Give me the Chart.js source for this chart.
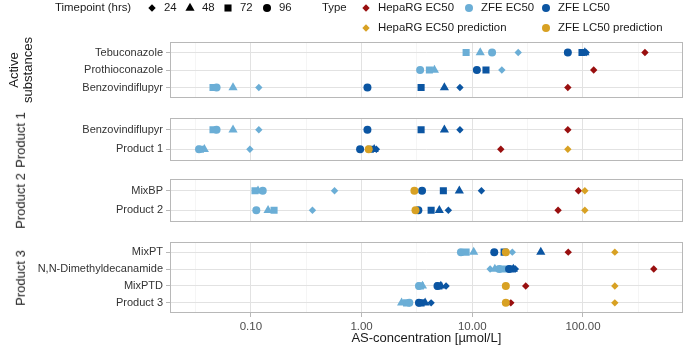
<!DOCTYPE html>
<html>
<head>
  <meta charset="utf-8">
  <title>AS-concentration</title>
  <script src="https://cdn.jsdelivr.net/npm/chart.js"></script>
  <style>
    body { margin: 0; background: #fff; }
    #plot { position: relative; width: 685px; height: 348px; overflow: hidden;
            font-family: "Liberation Sans", Arial, sans-serif; color: #1a1a1a; }
    #plot canvas { position: absolute; left: 0; }
    .txt { position: absolute; white-space: nowrap; line-height: 1; }
    .legend { font-size: 11.4px; transform: translateY(-50%); }
    .strip { font-size: 13px; text-align: center; white-space: pre; line-height: 1.1;
             transform: translate(-50%, -50%) rotate(-90deg); }
    .key { position: absolute; width: 14px; height: 14px; }
  </style>
</head>
<body>
<div id="plot"></div>

<script>
// facets and the substances in each, top to bottom
const facets = ['Active\nsubstances', 'Product 1', 'Product 2', 'Product 3'];
const facetRows = [
  ['Tebuconazole', 'Prothioconazole', 'Benzovindiflupyr'],
  ['Benzovindiflupyr', 'Product 1'],
  ['MixBP', 'Product 2'],
  ['MixPT', 'N,N-Dimethyldecanamide', 'MixPTD', 'Product 3']
];
const timepoints = [24, 48, 72, 96];
const xBreaks = [0.1, 1, 10, 100];

// [facet, substance, timepoint (hrs), AS-concentration µmol/L]
const zfeEC50 = [
  [0, 'Tebuconazole', 72, 8.8], [0, 'Tebuconazole', 48, 11.8], [0, 'Tebuconazole', 96, 15.1], [0, 'Tebuconazole', 24, 26],
  [0, 'Prothioconazole', 96, 3.38], [0, 'Prothioconazole', 72, 4.1], [0, 'Prothioconazole', 48, 4.55], [0, 'Prothioconazole', 24, 18.5],
  [0, 'Benzovindiflupyr', 72, 0.0455], [0, 'Benzovindiflupyr', 96, 0.049], [0, 'Benzovindiflupyr', 48, 0.069], [0, 'Benzovindiflupyr', 24, 0.118],
  [1, 'Benzovindiflupyr', 72, 0.0455], [1, 'Benzovindiflupyr', 96, 0.049], [1, 'Benzovindiflupyr', 48, 0.069], [1, 'Benzovindiflupyr', 24, 0.118],
  [1, 'Product 1', 96, 0.034], [1, 'Product 1', 72, 0.035], [1, 'Product 1', 48, 0.038], [1, 'Product 1', 24, 0.098],
  [2, 'MixBP', 72, 0.109], [2, 'MixBP', 48, 0.116], [2, 'MixBP', 96, 0.128], [2, 'MixBP', 24, 0.57],
  [2, 'Product 2', 96, 0.112], [2, 'Product 2', 48, 0.143], [2, 'Product 2', 72, 0.162], [2, 'Product 2', 24, 0.36],
  [3, 'MixPT', 96, 7.9], [3, 'MixPT', 72, 8.8], [3, 'MixPT', 48, 10.3], [3, 'MixPT', 24, 23],
  [3, 'N,N-Dimethyldecanamide', 24, 14.5], [3, 'N,N-Dimethyldecanamide', 48, 16], [3, 'N,N-Dimethyldecanamide', 96, 17.5], [3, 'N,N-Dimethyldecanamide', 72, 19],
  [3, 'MixPTD', 96, 3.3], [3, 'MixPTD', 72, 3.4], [3, 'MixPTD', 48, 3.55],
  [3, 'Product 3', 48, 2.3], [3, 'Product 3', 72, 2.55], [3, 'Product 3', 96, 2.7]
];
const zfeLC50 = [
  [0, 'Tebuconazole', 96, 73], [0, 'Tebuconazole', 24, 107], [0, 'Tebuconazole', 48, 104], [0, 'Tebuconazole', 72, 98],
  [0, 'Prothioconazole', 96, 11.0], [0, 'Prothioconazole', 72, 13.3],
  [0, 'Benzovindiflupyr', 96, 1.13], [0, 'Benzovindiflupyr', 72, 3.45], [0, 'Benzovindiflupyr', 48, 5.6], [0, 'Benzovindiflupyr', 24, 7.74],
  [1, 'Benzovindiflupyr', 96, 1.13], [1, 'Benzovindiflupyr', 72, 3.45], [1, 'Benzovindiflupyr', 48, 5.6], [1, 'Benzovindiflupyr', 24, 7.74],
  [1, 'Product 1', 96, 0.97], [1, 'Product 1', 72, 1.2], [1, 'Product 1', 24, 1.36], [1, 'Product 1', 48, 1.3],
  [2, 'MixBP', 96, 3.52], [2, 'MixBP', 72, 5.48], [2, 'MixBP', 48, 7.64], [2, 'MixBP', 24, 12.1],
  [2, 'Product 2', 96, 3.26], [2, 'Product 2', 72, 4.25], [2, 'Product 2', 48, 5.04], [2, 'Product 2', 24, 6.08],
  [3, 'MixPT', 96, 15.8], [3, 'MixPT', 72, 19.4], [3, 'MixPT', 48, 41.6],
  [3, 'N,N-Dimethyldecanamide', 96, 21.5], [3, 'N,N-Dimethyldecanamide', 72, 22.5], [3, 'N,N-Dimethyldecanamide', 48, 23.5], [3, 'N,N-Dimethyldecanamide', 24, 24.5],
  [3, 'MixPTD', 96, 4.85], [3, 'MixPTD', 72, 5.0], [3, 'MixPTD', 48, 5.2], [3, 'MixPTD', 24, 5.8],
  [3, 'Product 3', 96, 3.3], [3, 'Product 3', 72, 3.45], [3, 'Product 3', 48, 3.75], [3, 'Product 3', 24, 4.25]
];
const hepaEC50 = [
  [0, 'Tebuconazole', 24, 363], [0, 'Prothioconazole', 24, 125], [0, 'Benzovindiflupyr', 24, 73],
  [1, 'Benzovindiflupyr', 24, 73], [1, 'Product 1', 24, 18.1],
  [2, 'MixBP', 24, 91], [2, 'Product 2', 24, 59.6],
  [3, 'MixPT', 24, 73.6], [3, 'N,N-Dimethyldecanamide', 24, 436], [3, 'MixPTD', 24, 30.4], [3, 'Product 3', 24, 22.3]
];
const hepaEC50Pred = [
  [1, 'Product 1', 24, 73],
  [2, 'MixBP', 24, 104], [2, 'Product 2', 24, 104],
  [3, 'MixPT', 24, 194], [3, 'MixPTD', 24, 194], [3, 'Product 3', 24, 194]
];
const zfeLC50Pred = [
  [1, 'Product 1', 96, 1.16],
  [2, 'MixBP', 96, 3.0], [2, 'Product 2', 96, 3.07],
  [3, 'MixPT', 96, 20.1], [3, 'MixPTD', 96, 20.1], [3, 'Product 3', 96, 20.1]
];

const types = {
  'HepaRG EC50': { color: '#990f0f', data: hepaEC50 },
  'ZFE EC50': { color: '#6baed6', data: zfeEC50 },
  'ZFE LC50': { color: '#0b55a2', data: zfeLC50 },
  'HepaRG EC50 prediction': { color: '#d8a123', data: hepaEC50Pred },
  'ZFE LC50 prediction': { color: '#d8a123', data: zfeLC50Pred }
};
const drawOrder = ['ZFE EC50', 'ZFE LC50', 'HepaRG EC50', 'HepaRG EC50 prediction', 'ZFE LC50 prediction'];
const shapes = { 24: 'rectRot', 48: 'triangle', 72: 'rect', 96: 'circle' };
const radii = { 24: 3.7, 48: 5.3, 72: 5, 96: 4 };

// layout (pixels); chart.js keeps ~3px of extra room on the right, hence the wider canvas
const plotLeft = 170, canvasW = 688;
const panels = [{ top: 42, h: 56 }, { top: 118, h: 43 }, { top: 179, h: 43 }, { top: 242, h: 71 }];
const xMin = 0.0186, xMax = 796;

const root = document.getElementById('plot');
const font = '"Liberation Sans", Arial, sans-serif';

function isMajor(v) {
  const l = Math.log10(v);
  return Math.abs(l - Math.round(l)) < 0.01;
}

const panelBox = {
  id: 'panelBox',
  afterDraw(chart) {
    const a = chart.chartArea, ctx = chart.ctx;
    ctx.save();
    ctx.strokeStyle = '#b8b8b8';
    ctx.lineWidth = 1;
    ctx.strokeRect(Math.round(a.left) + 0.5, Math.round(a.top) + 0.5,
                   Math.round(a.right - a.left) - 1, Math.round(a.bottom - a.top) - 1);
    ctx.restore();
  }
};

facetRows.forEach((rows, f) => {
  const box = panels[f];
  const last = f === facetRows.length - 1;
  const padTop = 10, padBottom = last ? 0 : 10, xAxisH = last ? 35 : 0;

  const canvas = document.createElement('canvas');
  canvas.width = canvasW;
  canvas.height = box.h + padTop + padBottom + xAxisH;
  canvas.style.top = (box.top - padTop) + 'px';
  root.appendChild(canvas);

  const datasets = [];
  drawOrder.forEach(name => {
    const t = types[name];
    timepoints.forEach(hrs => {
      const pts = t.data.filter(d => d[0] === f && d[2] === hrs)
        .map(d => ({ x: d[3], y: rows.indexOf(d[1]) }));
      if (!pts.length) return;
      datasets.push({
        label: name + ' ' + hrs,
        data: pts,
        pointStyle: shapes[hrs],
        pointRadius: radii[hrs],
        backgroundColor: t.color,
        borderColor: t.color,
        borderWidth: 0
      });
    });
  });
  // chart.js paints the first dataset on top, so reverse the order
  datasets.forEach((d, i) => { d.order = datasets.length - i; });

  new Chart(canvas, {
    type: 'scatter',
    data: { datasets: datasets },
    options: {
      responsive: false,
      animation: false,
      events: [],
      devicePixelRatio: 1,
      layout: { padding: { top: padTop, bottom: padBottom, left: 0, right: 2 } },
      plugins: { legend: { display: false }, tooltip: { enabled: false } },
      scales: {
        x: {
          type: 'logarithmic',
          min: xMin,
          max: xMax,
          afterBuildTicks: s => {
            const t = [];
            xBreaks.forEach(v => t.push({ value: v }, { value: v * Math.sqrt(10) }));
            t.unshift({ value: xBreaks[0] / Math.sqrt(10) });
            s.ticks = t;
          },
          afterFit: s => { s.height = xAxisH; },
          border: { display: false },
          grid: {
            color: c => isMajor(c.tick.value) ? '#e2e2e2' : '#efefef',
            lineWidth: c => isMajor(c.tick.value) ? 1 : 0.6,
            drawTicks: last,
            tickLength: 4,
            tickColor: c => isMajor(c.tick.value) ? '#b8b8b8' : 'rgba(0,0,0,0)'
          },
          ticks: {
            display: last,
            autoSkip: false,
            maxRotation: 0,
            padding: 3,
            color: '#4d4d4d',
            font: { family: font, size: 11.5 },
            callback: v => isMajor(v) ? v.toFixed(2) : ''
          },
          title: {
            display: last,
            text: 'AS-concentration [µmol/L]',
            color: '#1a1a1a',
            font: { family: font, size: 13 },
            padding: { top: 0, bottom: 2 }
          }
        },
        y: {
          type: 'linear',
          reverse: true,
          min: -0.6,
          max: rows.length - 0.4,
          afterBuildTicks: s => { s.ticks = rows.map((r, i) => ({ value: i })); },
          afterFit: s => { s.width = plotLeft; },
          border: { display: false },
          grid: { color: '#e2e2e2', lineWidth: 1, tickLength: 4, tickColor: '#b8b8b8' },
          ticks: {
            autoSkip: false,
            padding: 3,
            color: '#333333',
            font: { family: font, size: 11 },
            callback: v => rows[v]
          }
        }
      }
    },
    plugins: [panelBox]
  });

  // facet strip on the left
  const strip = document.createElement('div');
  strip.className = 'txt strip';
  strip.textContent = facets[f];
  strip.style.left = '21px';
  strip.style.top = (box.top + box.h / 2) + 'px';
  root.appendChild(strip);
});

// legend
function keySvg(style, r, color) {
  const c = 7;
  let shape;
  if (style === 'circle') {
    shape = `<circle cx="${c}" cy="${c}" r="${r}" fill="${color}"/>`;
  } else if (style === 'rect') {
    const h = r * Math.SQRT1_2;
    shape = `<rect x="${c - h}" y="${c - h}" width="${2 * h}" height="${2 * h}" fill="${color}"/>`;
  } else if (style === 'rectRot') {
    shape = `<polygon points="${c},${c - r} ${c + r},${c} ${c},${c + r} ${c - r},${c}" fill="${color}"/>`;
  } else {
    shape = `<polygon points="${c},${c - r} ${c + 0.866 * r},${c + 0.5 * r} ${c - 0.866 * r},${c + 0.5 * r}" fill="${color}"/>`;
  }
  return `<svg width="14" height="14" viewBox="0 0 14 14">${shape}</svg>`;
}

function addText(text, x, y) {
  const d = document.createElement('div');
  d.className = 'txt legend';
  d.textContent = text;
  d.style.left = x + 'px';
  d.style.top = y + 'px';
  root.appendChild(d);
}

function addKey(style, r, color, x, y) {
  const k = document.createElement('div');
  k.className = 'key';
  k.innerHTML = keySvg(style, r, color);
  k.style.left = (x - 7) + 'px';
  k.style.top = (y - 7) + 'px';
  root.appendChild(k);
}

const tpKeyX = [152, 190, 228, 267];
addText('Timepoint (hrs)', 55, 8);
timepoints.forEach((hrs, i) => {
  addKey(shapes[hrs], radii[hrs], '#000', tpKeyX[i], 8);
  addText(String(hrs), tpKeyX[i] + 12, 8);
});

const typeKeys = [
  ['HepaRG EC50', 24, 366, 8], ['ZFE EC50', 96, 469, 8], ['ZFE LC50', 96, 546, 8],
  ['HepaRG EC50 prediction', 24, 366, 28], ['ZFE LC50 prediction', 96, 546, 28]
];
addText('Type', 322, 8);
typeKeys.forEach(([name, hrs, x, y]) => {
  addKey(shapes[hrs], radii[hrs], types[name].color, x, y);
  addText(name, x + 12, y);
});
</script>
</body>
</html>
